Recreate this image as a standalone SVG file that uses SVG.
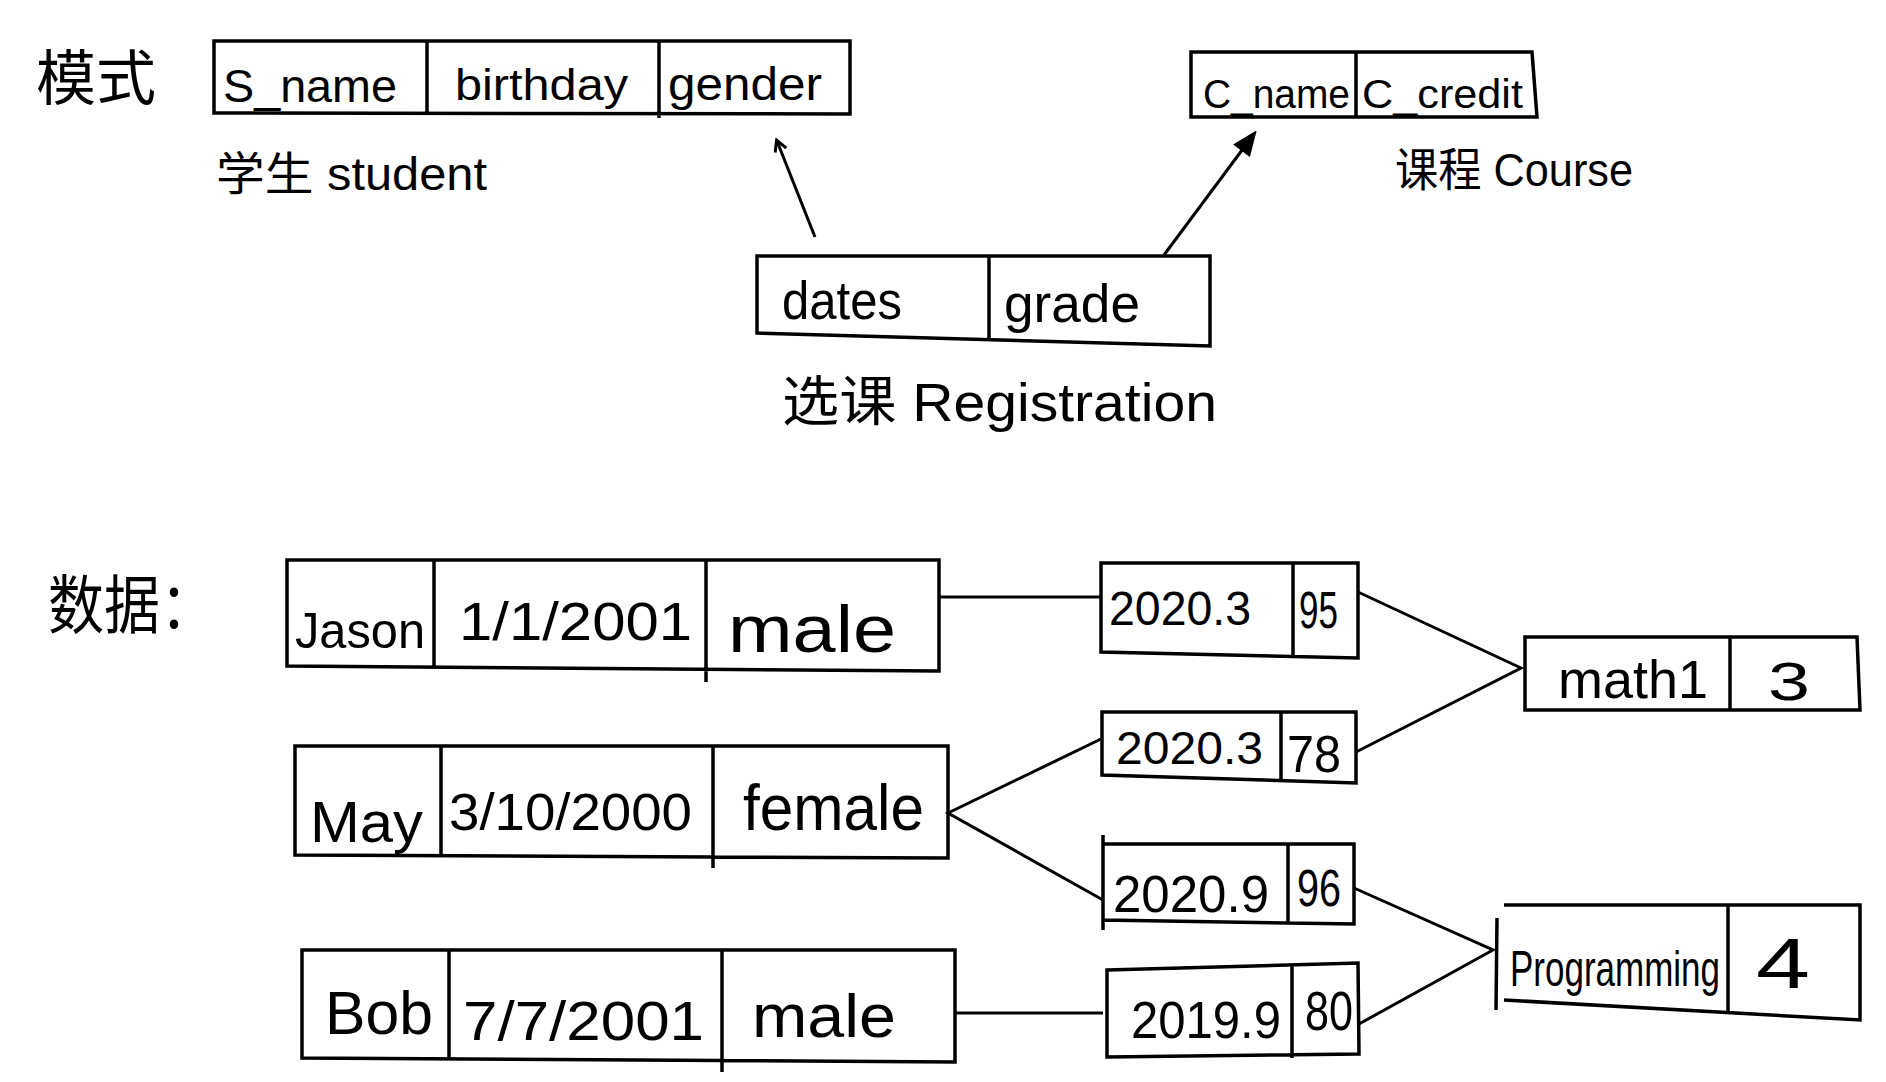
<svg xmlns="http://www.w3.org/2000/svg" width="1886" height="1082" viewBox="0 0 1886 1082">
<defs>
<style>
.b{fill:none;stroke:#000;stroke-width:3.5;stroke-linejoin:miter}
.c{fill:none;stroke:#000;stroke-width:3}
.t{font-family:"Liberation Sans","Noto Sans CJK SC",sans-serif;fill:#000}
</style>
<marker id="open" markerWidth="14" markerHeight="14" refX="11" refY="7" orient="auto" markerUnits="userSpaceOnUse"><path d="M1,1 L12,7 L1,13" fill="none" stroke="#000" stroke-width="3"/></marker>
<marker id="fill" markerWidth="26" markerHeight="26" refX="22" refY="13" orient="auto" markerUnits="userSpaceOnUse"><path d="M2,4 L24,13 L2,22 Z" fill="#000" stroke="#000" stroke-width="2"/></marker>
</defs>
<rect width="1886" height="1082" fill="#fff"/>

<text class="t" x="36" y="100" font-size="60" textLength="120" lengthAdjust="spacingAndGlyphs">模式</text>
<text class="t" x="48" y="628" font-size="64" textLength="168" lengthAdjust="spacingAndGlyphs">数据：</text>

<g id="student">
<path class="b" d="M214,41 L850,41 L850,114 L214,113 Z M427,41 L427,113 M659,41 L659,118"/>
<text class="t" x="223" y="102" font-size="46" textLength="174" lengthAdjust="spacingAndGlyphs">S_name</text>
<text class="t" x="455" y="100" font-size="44" textLength="173" lengthAdjust="spacingAndGlyphs">birthday</text>
<text class="t" x="668" y="100" font-size="46" textLength="154" lengthAdjust="spacingAndGlyphs">gender</text>
<text class="t" x="216" y="190" font-size="46" textLength="271" lengthAdjust="spacingAndGlyphs">学生 student</text>
</g>

<g id="course">
<path class="b" d="M1191,52 L1532,52 L1537,117 L1191,117 Z M1356,52 L1356,117"/>
<text class="t" x="1203" y="108" font-size="40" textLength="147" lengthAdjust="spacingAndGlyphs">C_name</text>
<text class="t" x="1362" y="108" font-size="40" textLength="161" lengthAdjust="spacingAndGlyphs">C_credit</text>
<text class="t" x="1395" y="186" font-size="46" textLength="238" lengthAdjust="spacingAndGlyphs">课程 Course</text>
</g>

<g id="registration">
<path class="b" d="M757,256 L1210,256 L1210,346 L757,333 Z M989,256 L989,340"/>
<text class="t" x="782" y="319" font-size="54" textLength="120" lengthAdjust="spacingAndGlyphs">dates</text>
<text class="t" x="1004" y="322" font-size="54" textLength="136" lengthAdjust="spacingAndGlyphs">grade</text>
<text class="t" x="782" y="421" font-size="54" textLength="435" lengthAdjust="spacingAndGlyphs">选课  Registration</text>
</g>

<g id="jason">
<path class="b" d="M287,560 L939,560 L939,671 L287,666 Z M434,560 L434,666 M706,560 L706,682"/>
<text class="t" x="295" y="648" font-size="50" textLength="130" lengthAdjust="spacingAndGlyphs">Jason</text>
<text class="t" x="459" y="640" font-size="54" textLength="233" lengthAdjust="spacingAndGlyphs">1/1/2001</text>
<text class="t" x="728" y="652" font-size="66" textLength="168" lengthAdjust="spacingAndGlyphs">male</text>
</g>

<g id="may">
<path class="b" d="M295,746 L948,746 L948,858 L295,855 Z M441,746 L441,855 M713,746 L713,868"/>
<text class="t" x="310" y="842" font-size="58" textLength="113" lengthAdjust="spacingAndGlyphs">May</text>
<text class="t" x="449" y="830" font-size="52" textLength="243" lengthAdjust="spacingAndGlyphs">3/10/2000</text>
<text class="t" x="743" y="830" font-size="64" textLength="181" lengthAdjust="spacingAndGlyphs">female</text>
</g>

<g id="bob">
<path class="b" d="M302,950 L955,950 L955,1062 L302,1058 Z M449,950 L449,1058 M722,950 L722,1072"/>
<text class="t" x="325" y="1034" font-size="62" textLength="108" lengthAdjust="spacingAndGlyphs">Bob</text>
<text class="t" x="463" y="1040" font-size="56" textLength="241" lengthAdjust="spacingAndGlyphs">7/7/2001</text>
<text class="t" x="752" y="1037" font-size="62" textLength="144" lengthAdjust="spacingAndGlyphs">male</text>
</g>

<g id="reg1">
<path class="b" d="M1101,563 L1358,563 L1358,658 L1101,652 Z M1293,563 L1293,655"/>
<text class="t" x="1109" y="625" font-size="48" textLength="142" lengthAdjust="spacingAndGlyphs">2020.3</text>
<text class="t" x="1299" y="628" font-size="52" textLength="39" lengthAdjust="spacingAndGlyphs">95</text>
</g>

<g id="reg2">
<path class="b" d="M1102,712 L1356,712 L1356,783 L1102,775 Z M1281,712 L1281,780"/>
<text class="t" x="1116" y="764" font-size="46" textLength="147" lengthAdjust="spacingAndGlyphs">2020.3</text>
<text class="t" x="1287" y="772" font-size="52" textLength="54" lengthAdjust="spacingAndGlyphs">78</text>
</g>

<g id="reg3">
<path class="b" d="M1103,844 L1354,844 L1354,924 L1103,920 Z M1288,844 L1288,922 M1103,835 L1103,930"/>
<text class="t" x="1113" y="912" font-size="52" textLength="156" lengthAdjust="spacingAndGlyphs">2020.9</text>
<text class="t" x="1297" y="906" font-size="52" textLength="44" lengthAdjust="spacingAndGlyphs">96</text>
</g>

<g id="reg4">
<path class="b" d="M1107,970 L1358,963 L1359,1054 L1107,1057 Z M1292,966 L1292,1058"/>
<text class="t" x="1131" y="1038" font-size="52" textLength="150" lengthAdjust="spacingAndGlyphs">2019.9</text>
<text class="t" x="1305" y="1030" font-size="56" textLength="48" lengthAdjust="spacingAndGlyphs">80</text>
</g>

<g id="math1">
<path class="b" d="M1525,637 L1857,637 L1860,710 L1525,710 Z M1730,637 L1730,710"/>
<text class="t" x="1558" y="698" font-size="54" textLength="150" lengthAdjust="spacingAndGlyphs">math1</text>
<text class="t" x="1768" y="700" font-size="54" textLength="42" lengthAdjust="spacingAndGlyphs">3</text>
</g>

<g id="programming">
<path class="b" d="M1504,905 L1860,905 L1860,1020 L1504,1000 M1497,918 L1496,1010 M1728,905 L1728,1012"/>
<text class="t" transform="translate(1510,986) scale(0.7,1)" font-size="50" textLength="300" lengthAdjust="spacingAndGlyphs">Programming</text>
<text class="t" x="1756" y="988" font-size="70" textLength="54" lengthAdjust="spacingAndGlyphs">4</text>
</g>

<g id="connectors">
<line class="c" x1="815" y1="237" x2="777" y2="141" marker-end="url(#open)"/>
<line class="c" x1="1164" y1="255" x2="1254" y2="134" marker-end="url(#fill)"/>
<path class="c" d="M939,597 L1101,597"/>
<path class="c" d="M1358,592 L1521,668 L1356,752"/>
<path class="c" d="M1101,739 L948,813 L1103,900"/>
<path class="c" d="M1354,888 L1493,950 L1359,1024"/>
<path class="c" d="M955,1013 L1103,1013"/>
</g>
</svg>
